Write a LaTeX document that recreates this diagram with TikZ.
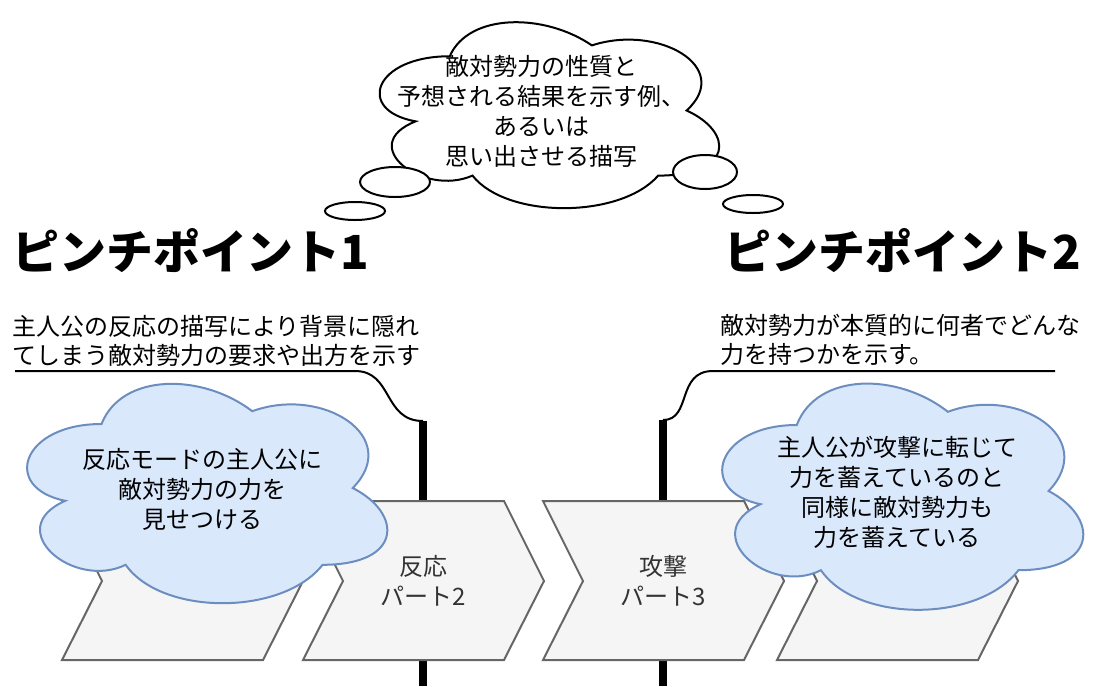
\documentclass[tikz,border=0pt]{standalone}
\usepackage{fontspec}
\setmainfont{Noto Sans CJK JP}
\usepackage{tikz}
\usetikzlibrary{positioning, calc, shapes.geometric}
\definecolor{partfill}{HTML}{F5F5F5}
\definecolor{partline}{HTML}{666666}
\definecolor{partfont}{HTML}{333333}
\definecolor{notefill}{HTML}{DAE8FC}
\definecolor{noteline}{HTML}{6C8EBF}

\begin{document}
\begin{tikzpicture}[
        x=0.75pt, y=-0.75pt,
        part/.style={fill=partfill, draw=partline, line width=1.5pt},
        parttext/.style={text=partfont, align=center, inner sep=0pt, font=\fontsize{18}{22.5}\selectfont},
        bluecloud/.style={fill=notefill, draw=noteline, line width=1.5pt},
        thoughtcloud/.style={fill=white, draw=black, line width=1.5pt},
        cloudtext/.style={align=center, inner sep=0pt, font=\fontsize{18}{22.5}\selectfont},
        bubble/.style={ellipse, fill=white, draw=black, line width=1.5pt, inner sep=0pt},
        title/.style={anchor=west, inner sep=0pt, font=\fontsize{35.2}{40}\selectfont\bfseries},
        note/.style={anchor=west, align=left, inner sep=0pt, font=\fontsize{18}{21.5}\selectfont},
        bracket/.style={draw=black, line width=1.5pt},
        marker/.style={draw=black, line width=5.5pt}
    ]
        \useasboundingbox (0,0) rectangle (1112,686);
        \newcommand{\partbox}[3]{%
            \draw[part] (#1,501) -- ++(201,0) -- ++(40,80) -- ++(-40,79) -- ++(-201,0) -- ++(40,-79) -- cycle;
            \node[parttext] (#2) at (#1+120.5,581) {#3};
        }
        \newcommand{\drawcloud}[5]{%
            \draw[#1, shift={(#2,#3)}, xscale=#4, yscale=#5]
                (0.25,0.25) .. controls (0.05,0.25) and (0,0.5) .. (0.16,0.55)
                .. controls (0,0.66) and (0.18,0.9) .. (0.31,0.8)
                .. controls (0.4,1) and (0.7,1) .. (0.8,0.8)
                .. controls (1,0.8) and (1,0.6) .. (0.875,0.5)
                .. controls (1,0.3) and (0.8,0.1) .. (0.625,0.2)
                .. controls (0.5,0.05) and (0.3,0.05) .. (0.25,0.25) -- cycle;
        }

        % time markers behind the parts
        \coordinate (mark1) at (423,421);
        \coordinate (mark1end) at (423,686);
        \coordinate (mark2) at (663,420);
        \coordinate (mark2end) at (663,686);
        \draw[marker] (mark1) -- (mark1end);
        \draw[marker] (mark2) -- (mark2end);

        \partbox{62}{part1}{}
        \partbox{303}{part2}{反応\\パート2}
        \partbox{543}{part3}{攻撃\\パート3}
        \partbox{777}{part4}{}

        \drawcloud{bluecloud}{1}{360}{402}{256}
        \node[cloudtext] (reactnote) at (202,489) {反応モードの主人公に\\敵対勢力の力を\\見せつける};
        \drawcloud{bluecloud}{696}{359}{403}{264}
        \node[cloudtext] (attacknote) at (897,492) {主人公が攻撃に転じて\\力を蓄えているのと\\同様に敵対勢力も\\力を蓄えている};

        \node[title] (pinch1) at (12,251) {ピンチポイント1};
        \node[title] (pinch2) at (724,251) {ピンチポイント2};

        \node[note] (desc1) at (12,341) {主人公の反応の描写により背景に隠れ\\てしまう敵対勢力の要求や出方を示す};
        \node[note] (desc2) at (720,340) {敵対勢力が本質的に何者でどんな\\力を持つかを示す。};
        \coordinate (brace1) at (15,371);
        \coordinate (brace2) at (1055,371);
        \draw[bracket] (brace1) -- (355,371) .. controls (393,371) and (383,421) .. (mark1);
        \draw[bracket] (brace2) -- (713,371) .. controls (676,371) and (692,420) .. (mark2);

        % thought bubble
        \drawcloud{thoughtcloud}{355}{2}{379}{217}
        \node[cloudtext] (thought) at (541,111) {敵対勢力の性質と\\予想される結果を示す例、\\あるいは\\思い出させる描写};
        \node[bubble, minimum width=52.5pt, minimum height=22.5pt] (bubble1) at (395,182) {};
        \node[bubble, minimum width=45pt, minimum height=13.5pt] (bubble2) at (355,211) {};
        \node[bubble, minimum width=48pt, minimum height=25.5pt] (bubble3) at (705,172) {};
        \node[bubble, minimum width=45pt, minimum height=13.5pt] (bubble4) at (753,204) {};
\end{tikzpicture}
\end{document}
